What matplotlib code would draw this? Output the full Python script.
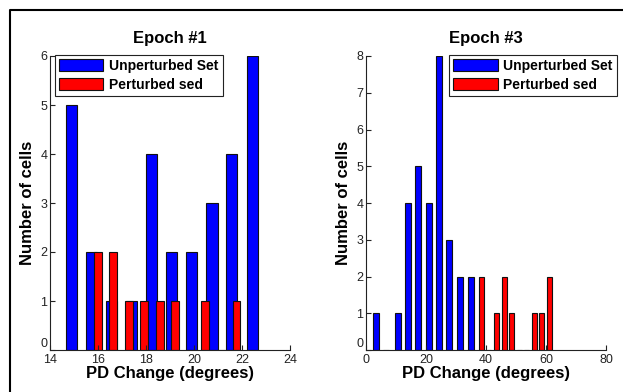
import matplotlib
matplotlib.use("Agg")
import matplotlib.pyplot as plt
from matplotlib.lines import Line2D

plt.rcParams['font.family'] = ['Liberation Sans', 'DejaVu Sans']

# ---- data ----
e1_blue_x = [14.88, 15.72, 16.56, 17.39, 18.23, 19.07, 19.91, 20.75, 21.58, 22.42]
e1_blue_n = [5, 2, 1, 1, 4, 2, 2, 3, 4, 6]
e1_red_x = [16.00, 16.64, 17.28, 17.92, 18.57, 19.21, 19.85, 20.47, 21.12, 21.77]
e1_red_n = [2, 2, 1, 1, 1, 1, 0, 1, 0, 1]

e3_blue_x = [3.25, 6.8, 10.6, 13.95, 17.4, 21.0, 24.3, 27.8, 31.4, 35.0]
e3_blue_n = [1, 0, 1, 4, 5, 4, 8, 3, 2, 2]
e3_red_x = [38.5, 41.0, 43.5, 46.1, 48.6, 51.1, 53.6, 56.1, 58.6, 61.2]
e3_red_n = [2, 0, 1, 2, 1, 0, 0, 1, 1, 2]

titles = ["Epoch #1", "Epoch #3"]
legend_labels = ["Unperturbed Set", "Perturbed sed"]
xlabel = "PD Change (degrees)"
ylabel = "Number of cells"
xticks1 = [14, 16, 18, 20, 22, 24]
xticks3 = [0, 20, 40, 60, 80]

W, H = 623, 392
fig = plt.figure(figsize=(W / 100, H / 100), dpi=100)

def px_axes(l, r, t, b):
    return fig.add_axes([l / W, 1 - b / H, (r - l) / W, (b - t) / H])

ax1 = px_axes(50, 290, 56, 350)
ax2 = px_axes(366, 606, 56, 350)

def style(ax, xlim, ylim, xticks, title, leg_x):
    ax.set_xlim(*xlim)
    ax.set_ylim(*ylim)
    ax.set_xticks(xticks)
    ax.set_yticks(range(ylim[0], ylim[1] + 1))
    for s in ['top', 'right']:
        ax.spines[s].set_visible(False)
    for s in ['left', 'bottom']:
        ax.spines[s].set_linewidth(0.8)
        ax.spines[s].set_color('#222222')
    ax.tick_params(direction='in', length=3.5, width=0.8, labelsize=9,
                   colors='#222222', pad=2)
    ax.tick_params(axis='x', pad=3)
    ax.set_title(title, fontsize=12, fontweight='bold', pad=9)
    ax.set_xlabel(xlabel, fontsize=12, fontweight='bold', labelpad=0)
    ax.set_ylabel(ylabel, fontsize=12, fontweight='bold', labelpad=4)
    fig.canvas.draw()
    ylabs = ax.get_yticklabels()
    ylabs[0].set_verticalalignment('bottom')
    leg = ax.legend(loc='upper left', bbox_to_anchor=(leg_x, 1.005),
                    prop={'weight': 'bold', 'size': 10},
                    fancybox=False, framealpha=1, edgecolor='#222222',
                    handlelength=3.2, handleheight=1.0, handletextpad=0.4,
                    borderpad=0.3, labelspacing=0.35, borderaxespad=0)
    leg.get_frame().set_linewidth(0.8)

ax1.bar(e1_blue_x, e1_blue_n, width=0.46, color='#0000ff', edgecolor='#111111',
        linewidth=0.8, label=legend_labels[0])
ax1.bar(e1_red_x, e1_red_n, width=0.33, color='#ff0000', edgecolor='#111111',
        linewidth=0.8, label=legend_labels[1])
style(ax1, (14, 24), (0, 6), xticks1, titles[0], 0.02)

ax2.bar(e3_blue_x, e3_blue_n, width=1.95, color='#0000ff', edgecolor='#111111',
        linewidth=0.8, label=legend_labels[0])
ax2.bar(e3_red_x, e3_red_n, width=1.6, color='#ff0000', edgecolor='#111111',
        linewidth=0.8, label=legend_labels[1])
style(ax2, (0, 80), (0, 8), xticks3, titles[1], 0.346)

# outer frame (partially visible)
fig.add_artist(Line2D([10 / W, 10 / W, 1.0], [0.0, 1 - 10 / H, 1 - 10 / H],
                      transform=fig.transFigure, color='black', linewidth=1.5))

fig.savefig("out.png", dpi=100)
